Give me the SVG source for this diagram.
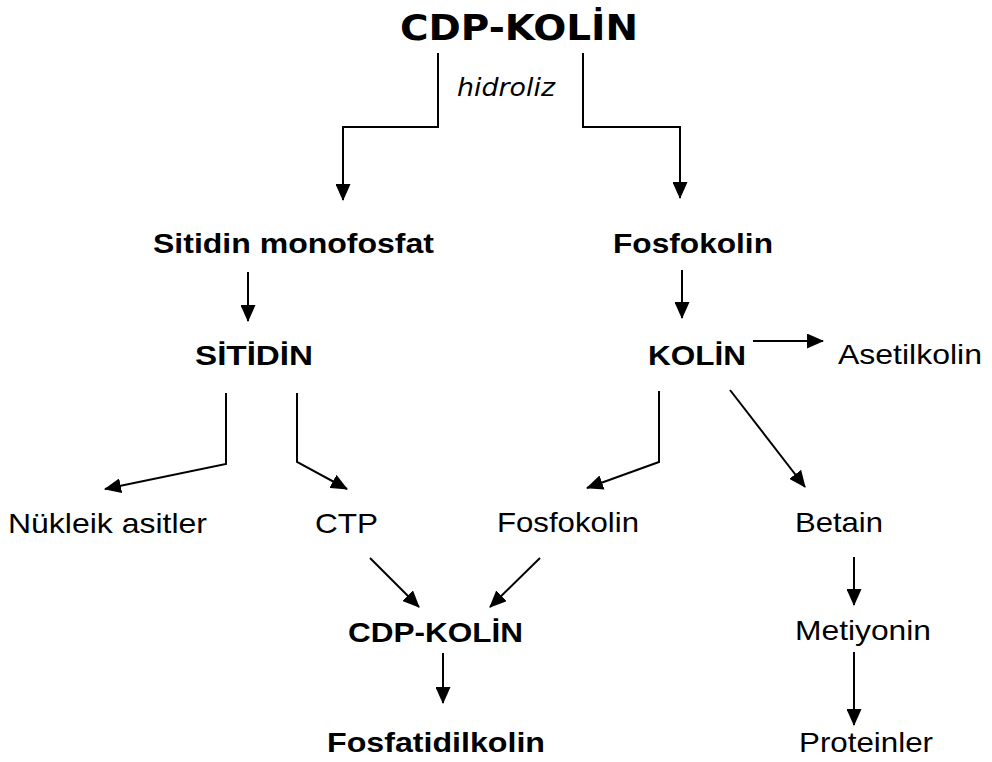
<svg xmlns="http://www.w3.org/2000/svg" width="992" height="762" viewBox="0 0 992 762">
<defs>
<marker id="ah" markerUnits="userSpaceOnUse" markerWidth="17" markerHeight="15" refX="16" refY="7.5" orient="auto">
<path d="M0,0 L17,7.5 L0,15 z" fill="#000"/>
</marker>
<style>
.t{font-family:"Liberation Sans",Arial,sans-serif;font-size:28px;fill:#000}
.b{font-weight:bold}
.title{font-family:"DejaVu Sans",Verdana,sans-serif;font-size:35px;font-weight:bold;fill:#000}
.it{font-family:"DejaVu Sans",Verdana,sans-serif;font-size:25px;font-style:italic;fill:#000}
.c{fill:none;stroke:#000;stroke-width:2;marker-end:url(#ah)}
</style>
</defs>
<rect width="992" height="762" fill="#fff"/>
<g id="connectors">
<polyline class="c" points="438,53 438,127 343,127 343,200"/>
<polyline class="c" points="583,53 583,127 680,127 680,198"/>
<line class="c" x1="248" y1="272" x2="248" y2="321"/>
<line class="c" x1="682" y1="270" x2="682" y2="318"/>
<line class="c" x1="753" y1="341" x2="823" y2="341"/>
<polyline class="c" points="226,393 226,464 105,489"/>
<polyline class="c" points="297,393 297,462 347,489"/>
<polyline class="c" points="659,391 659,462 587,488"/>
<line class="c" x1="730" y1="390" x2="805" y2="487"/>
<line class="c" x1="370" y1="558" x2="419" y2="607"/>
<line class="c" x1="540" y1="558" x2="490" y2="607"/>
<line class="c" x1="443" y1="653" x2="443" y2="703"/>
<line class="c" x1="854" y1="557" x2="854" y2="605"/>
<line class="c" x1="854" y1="652" x2="854" y2="725"/>
<text class="it" x="457" y="96" textLength="98" lengthAdjust="spacingAndGlyphs">hidroliz</text>
</g>
<g id="cdp-kolin-top"><text class="title" x="400" y="40" textLength="238" lengthAdjust="spacingAndGlyphs">CDP-KOLİN</text></g>
<g id="sitidin-monofosfat"><text class="t b" x="153" y="253" textLength="281" lengthAdjust="spacingAndGlyphs">Sitidin monofosfat</text></g>
<g id="fosfokolin-top"><text class="t b" x="613" y="253" textLength="160" lengthAdjust="spacingAndGlyphs">Fosfokolin</text></g>
<g id="sitidin"><text class="t b" x="195" y="365" textLength="118" lengthAdjust="spacingAndGlyphs">SİTİDİN</text></g>
<g id="kolin"><text class="t b" x="648" y="365" textLength="98" lengthAdjust="spacingAndGlyphs">KOLİN</text></g>
<g id="asetilkolin"><text class="t" x="838" y="364" textLength="144" lengthAdjust="spacingAndGlyphs">Asetilkolin</text></g>
<g id="nukleik-asitler"><text class="t" x="8" y="533" textLength="199" lengthAdjust="spacingAndGlyphs">Nükleik asitler</text></g>
<g id="ctp"><text class="t" x="315" y="533" textLength="63" lengthAdjust="spacingAndGlyphs">CTP</text></g>
<g id="fosfokolin-mid"><text class="t" x="497" y="532" textLength="142" lengthAdjust="spacingAndGlyphs">Fosfokolin</text></g>
<g id="betain"><text class="t" x="795" y="532" textLength="88" lengthAdjust="spacingAndGlyphs">Betain</text></g>
<g id="cdp-kolin-bottom"><text class="t b" x="348" y="642" textLength="175" lengthAdjust="spacingAndGlyphs">CDP-KOLİN</text></g>
<g id="metiyonin"><text class="t" x="795" y="640" textLength="136" lengthAdjust="spacingAndGlyphs">Metiyonin</text></g>
<g id="fosfatidilkolin"><text class="t b" x="327" y="752" textLength="218" lengthAdjust="spacingAndGlyphs">Fosfatidilkolin</text></g>
<g id="proteinler"><text class="t" x="799" y="752" textLength="134" lengthAdjust="spacingAndGlyphs">Proteinler</text></g>
</svg>
